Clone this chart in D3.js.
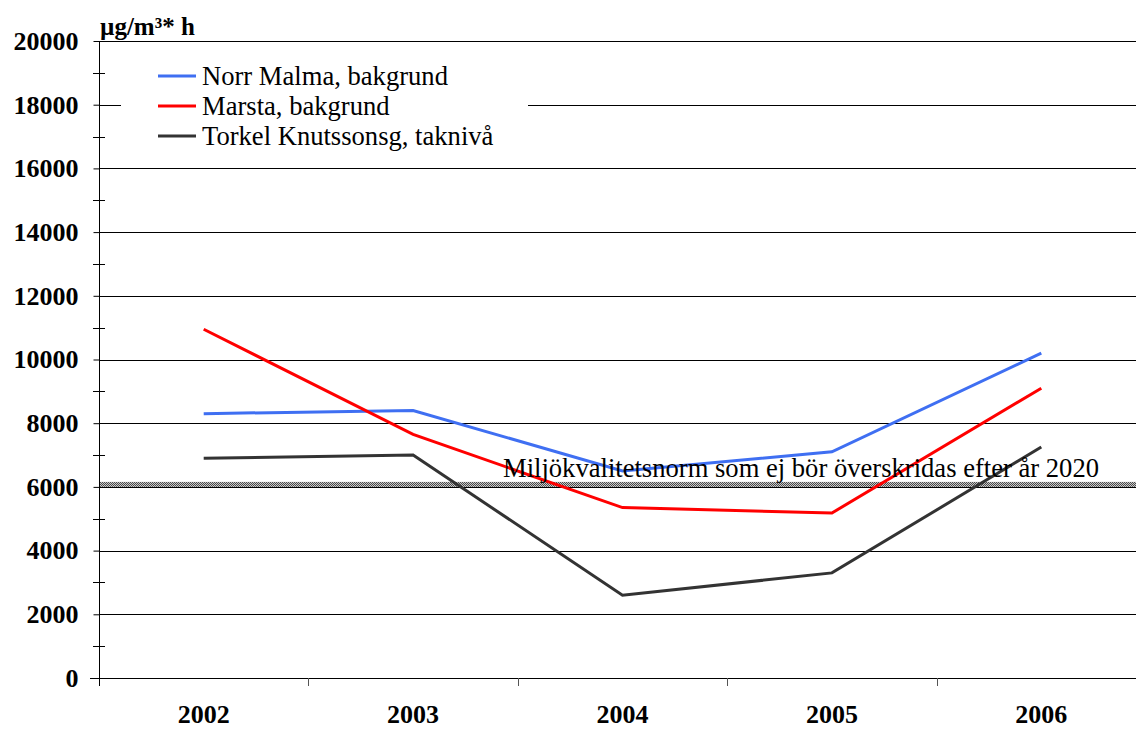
<!DOCTYPE html>
<html>
<head>
<meta charset="utf-8">
<script src="https://cdn.jsdelivr.net/npm/d3@7"></script>
<style>
  html, body { margin: 0; padding: 0; background: #fff; }
  svg { display: block; }
  text { font-family: "Liberation Serif", "Times New Roman", serif; fill: #000; }
</style>
</head>
<body>
<svg id="chart" width="1136" height="729"></svg>
<script>
// Yearly values, µg/m³ * h
const years = ["2002", "2003", "2004", "2005", "2006"];
const norrMalma = [8300, 8400, 6500, 7100, 10200];
const marsta = [10950, 7650, 5350, 5180, 9100];
const torkel = [6900, 7000, 2600, 3300, 7250];
const seriesNames = ["Norr Malma, bakgrund", "Marsta, bakgrund", "Torkel Knutssonsg, taknivå"];
const seriesColors = ["#3f6ff2", "#ff0000", "#333333"];
const normValue = 6000;
const normLabel = "Miljökvalitetsnorm som ej bör överskridas efter år 2020";
const yMajorTicks = [0, 2000, 4000, 6000, 8000, 10000, 12000, 14000, 16000, 18000, 20000];
const yMinorTicks = [1000, 3000, 5000, 7000, 9000, 11000, 13000, 15000, 17000, 19000];
const unitLabel = "µg/m³* h";

const serif = '"Liberation Serif", "Times New Roman", serif';
const svg = d3.select("#chart");
const plotLeft = 99, plotRight = 1146, plotTop = 41, plotBottom = 678;

const x = d3.scaleBand().domain(years).range([plotLeft, plotRight]).paddingInner(0).paddingOuter(0);
const y = d3.scaleLinear().domain([0, 20000]).range([plotBottom, plotTop]);

// checkered fill for the norm band
const defs = svg.append("defs");
const pat = defs.append("pattern").attr("id", "checker")
  .attr("width", 2).attr("height", 2).attr("patternUnits", "userSpaceOnUse");
pat.append("rect").attr("width", 2).attr("height", 2).attr("fill", "#c8c8c8");
pat.append("rect").attr("width", 1).attr("height", 1).attr("fill", "#4a4a4a");
pat.append("rect").attr("x", 1).attr("y", 1).attr("width", 1).attr("height", 1).attr("fill", "#4a4a4a");

// horizontal gridlines
svg.append("g").selectAll("line").data(yMajorTicks.filter(d => d > 0)).join("line")
  .attr("x1", plotLeft).attr("x2", 1136)
  .attr("y1", d => Math.round(y(d)) + 0.5).attr("y2", d => Math.round(y(d)) + 0.5)
  .attr("stroke", "#000").attr("stroke-width", 1);

// y axis
const yAxis = svg.append("g").attr("transform", `translate(${plotLeft + 0.5},0)`)
  .call(d3.axisLeft(y).tickValues(yMajorTicks).tickSize(6).tickPadding(15).tickFormat(d3.format("d")));
yAxis.select(".domain").remove();
yAxis.selectAll(".tick line").attr("stroke", "#000");
yAxis.selectAll(".tick text")
  .style("font-family", serif)
  .style("font-size", "26px").style("font-weight", "bold").attr("fill", "#000");
svg.append("line").attr("x1", plotLeft + 0.5).attr("x2", plotLeft + 0.5)
  .attr("y1", plotTop).attr("y2", plotBottom + 8).attr("stroke", "#000");

// minor ticks crossing the axis
svg.append("g").selectAll("line").data(yMinorTicks).join("line")
  .attr("x1", plotLeft - 6).attr("x2", plotLeft + 6)
  .attr("y1", d => Math.round(y(d)) + 0.5).attr("y2", d => Math.round(y(d)) + 0.5)
  .attr("stroke", "#000");

// x axis
const xAxis = svg.append("g").attr("transform", `translate(0,${plotBottom + 0.5})`)
  .call(d3.axisBottom(x).tickSize(0).tickPadding(26));
xAxis.select(".domain").remove();
xAxis.selectAll(".tick text")
  .style("font-family", serif)
  .style("font-size", "26px").style("font-weight", "bold").attr("fill", "#000");
svg.append("line").attr("x1", plotLeft - 9).attr("x2", 1136)
  .attr("y1", plotBottom + 0.5).attr("y2", plotBottom + 0.5).attr("stroke", "#000");
svg.append("g").selectAll("line").data(years.slice(1)).join("line")
  .attr("x1", d => Math.round(x(d)) + 0.5).attr("x2", d => Math.round(x(d)) + 0.5)
  .attr("y1", plotBottom).attr("y2", plotBottom + 8)
  .attr("stroke", "#555");

// norm band
svg.append("rect")
  .attr("x", plotLeft + 1).attr("width", 1136 - plotLeft)
  .attr("y", y(normValue) - 5).attr("height", 5)
  .attr("fill", "url(#checker)");

// series lines
const allSeries = [norrMalma, marsta, torkel];
const line = d3.line().x((d, i) => x(years[i]) + x.bandwidth() / 2).y(d => y(d));
svg.append("g").selectAll("path").data(allSeries).join("path")
  .attr("d", d => line(d))
  .attr("fill", "none")
  .attr("stroke", (d, i) => seriesColors[i])
  .attr("stroke-width", 3)
  .attr("stroke-linejoin", "miter");

// norm label
svg.append("text").attr("x", 503).attr("y", y(normValue) - 10)
  .style("font-size", "26.6px").text(normLabel);

// unit label
svg.append("text").attr("x", 100).attr("y", 35)
  .style("font-size", "25px").style("font-weight", "bold").text(unitLabel);

// legend
const legend = svg.append("g");
legend.append("rect").attr("x", 121).attr("y", 58).attr("width", 407).attr("height", 98).attr("fill", "#fff");
const rows = legend.selectAll("g").data(seriesNames).join("g")
  .attr("transform", (d, i) => `translate(158,${76 + i * 30})`);
rows.append("line").attr("x1", 0).attr("x2", 38).attr("y1", 0).attr("y2", 0)
  .attr("stroke", (d, i) => seriesColors[i]).attr("stroke-width", 3);
rows.append("text").attr("x", 44).attr("y", 9)
  .style("font-size", "26.6px").text(d => d);
</script>
</body>
</html>
